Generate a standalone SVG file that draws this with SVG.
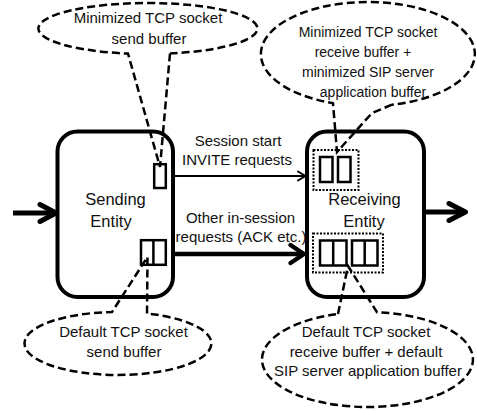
<svg xmlns="http://www.w3.org/2000/svg" width="477" height="411" viewBox="0 0 477 411">
<style>
text{font-family:"Liberation Sans",Arial,sans-serif;fill:#111;text-anchor:middle}
.t15{font-size:15px}
.t14{font-size:14px}
.t16{font-size:16.5px}
.box{fill:none;stroke:#000;stroke-width:4}
.buf{fill:none;stroke:#000;stroke-width:2.5}
.dot{fill:none;stroke:#000;stroke-width:2;stroke-dasharray:2 1.5}
.call{fill:none;stroke:#000;stroke-width:2.5;stroke-dasharray:8 4}
.ln{fill:none;stroke:#000;stroke-linecap:butt}
.hd{fill:none;stroke:#000;stroke-linecap:round;stroke-linejoin:round}
</style>
<rect width="477" height="411" fill="#fff"/>
<g id="connectors">
<line class="ln" x1="13" y1="213" x2="55" y2="213" stroke-width="5"/>
<polyline class="hd" points="40,204.5 56,213 40,221.5" stroke-width="5"/>
<line class="ln" x1="175" y1="176" x2="304" y2="176" stroke-width="2"/>
<polyline class="hd" points="298,171.5 305.5,176 298,180.5" stroke-width="2"/>
<line class="ln" x1="175" y1="254" x2="303" y2="254" stroke-width="4.5"/>
<polyline class="hd" points="290.5,245 304,254 290.5,263" stroke-width="4.5"/>
<line class="ln" x1="424" y1="212" x2="464" y2="212" stroke-width="5"/>
<polyline class="hd" points="449,203.5 465.5,212 449,220.5" stroke-width="5"/>
</g>
<g id="sending-entity">
<rect class="box" x="57.5" y="131.5" width="115.5" height="165.5" rx="20"/>
<text class="t16" x="115.5" y="205">Sending</text>
<text class="t16" x="111" y="227">Entity</text>
<rect class="buf" x="154.2" y="164.2" width="11.6" height="23.8"/>
<rect class="buf" x="141" y="240.2" width="24.8" height="24.6"/>
<line class="buf" x1="153.4" y1="240.2" x2="153.4" y2="264.8"/>
</g>
<g id="receiving-entity">
<rect class="box" x="307" y="131.5" width="117" height="165.5" rx="20"/>
<text class="t16" x="364.5" y="205">Receiving</text>
<text class="t16" x="364" y="227">Entity</text>
<rect class="dot" x="313.5" y="150" width="45" height="40"/>
<rect class="buf" x="320" y="157" width="12.5" height="25"/>
<rect class="buf" x="338" y="157" width="12.5" height="25"/>
<rect class="dot" x="313" y="233.5" width="70" height="39"/>
<rect class="buf" x="320" y="240.5" width="26.5" height="25"/>
<line class="buf" x1="333.2" y1="240.5" x2="333.2" y2="265.5"/>
<rect class="buf" x="352" y="240.5" width="25.5" height="25"/>
<line class="buf" x1="364.7" y1="240.5" x2="364.7" y2="265.5"/>
</g>
<g id="callout-min-send">
<path class="call" d="M170,53.5 L160,167 L128,53.6 A109.5,25.5 0 1 1 170,53.5"/>
<text class="t15" x="148" y="23">Minimized TCP socket</text>
<text class="t15" x="149" y="44">send buffer</text>
</g>
<g id="callout-min-recv">
<path class="call" d="M392,104.7 L372,113 L337,152 L333,103.2 A107,52 0 1 1 392,104.7"/>
<text class="t14" x="368" y="37">Minimized TCP socket</text>
<text class="t14" x="363" y="57">receive buffer +</text>
<text class="t14" x="368" y="77">minimized SIP server</text>
<text class="t14" x="373" y="97">application buffer</text>
</g>
<g id="callout-def-send">
<path class="call" d="M147,313.5 L147.5,257 L112,312 A93.5,31.5 0 1 0 147,313.5"/>
<text class="t15" x="123.5" y="337">Default TCP socket</text>
<text class="t15" x="124" y="357">send buffer</text>
</g>
<g id="callout-def-recv">
<path class="call" d="M338,313.9 L348,266 L377,312.2 A105.5,47.5 0 1 1 338,313.9"/>
<text class="t15" x="366" y="337">Default TCP socket</text>
<text class="t15" x="366" y="357">receive buffer + default</text>
<text class="t15" x="368" y="376">SIP server application buffer</text>
</g>
<g id="labels">
<text class="t15" x="238" y="146">Session start</text>
<text class="t15" x="237" y="165">INVITE requests</text>
<text class="t15" x="240.5" y="223">Other in-session</text>
<text class="t15" x="241" y="242">requests (ACK etc.)</text>
</g>
</svg>
